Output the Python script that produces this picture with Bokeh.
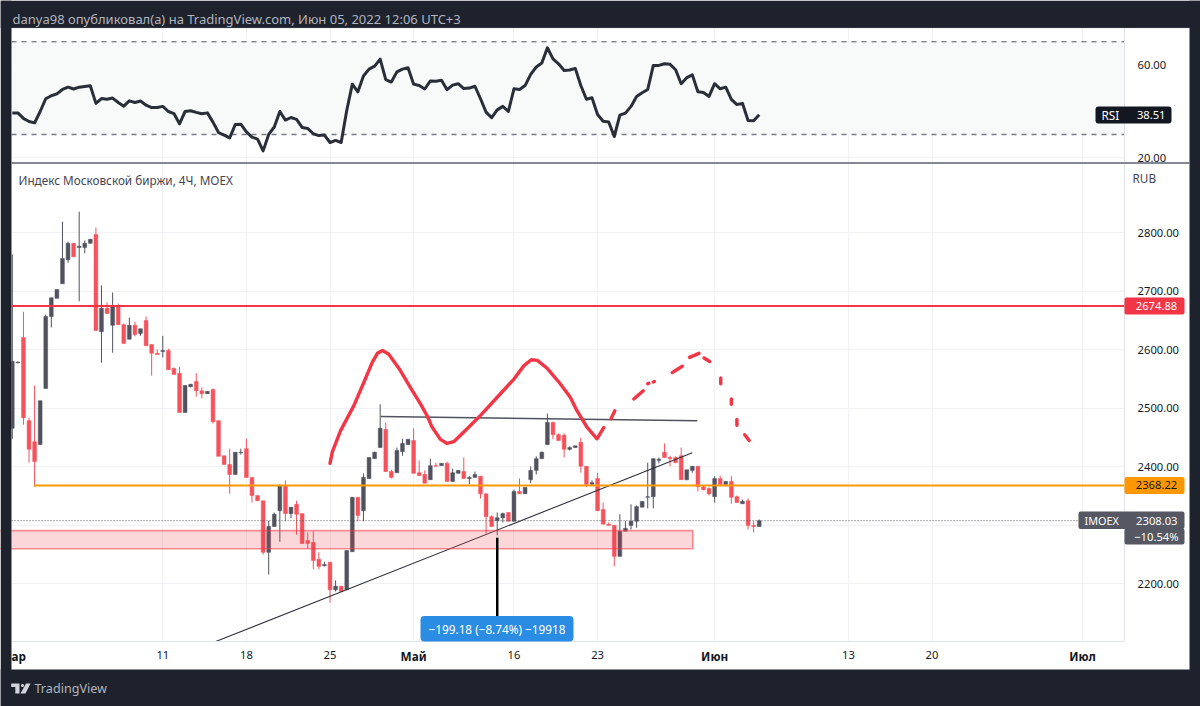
from bokeh.embed import file_html
from bokeh.models import (BoxAnnotation, ColumnDataSource, FixedTicker, Grid, Label, LinearAxis,
                          NumeralTickFormatter, PolyAnnotation, Range1d)
from bokeh.plotting import figure
from bokeh.resources import INLINE

opens = [2466,2578,2621,2479,2443,2438,2534,2657,2688,2713,2754,2782,2775,2775,2782,2797,2631,2671,2642,2674,
 2643,2618,2642,2628,2650,2609,2594,2597,2599,2568,2560,2493,2537,2546,2530,2525,2532,2479,2419,2404,
 2387,2424,2431,2382,2351,2342,2254,2298,2325,2368,2320,2336,2320,2274,2271,2242,2231,2237,2190,2196,
 2190,2255,2348,2325,2380,2414,2433,2464,2392,2390,2426,2438,2445,2390,2387,2378,2402,2402,2406,2375,
 2389,2392,2380,2382,2384,2354,2315,2308,2313,2322,2307,2358,2354,2378,2394,2414,2438,2476,2455,2454,
 2430,2433,2442,2401,2370,2380,2327,2302,2300,2247,2290,2300,2307,2331,2348,2349,2411,2425,2416,2416,
 2419,2378,2394,2401,2366,2363,2349,2380,2370,2375,2349,2337,2342,2300,2298]
highs = [2763,2580,2665,2484,2539,2513,2660,2689,2703,2819,2785,2782,2836,2787,2789,2809,2710,2681,2698,2679,
 2645,2655,2648,2636,2657,2609,2601,2624,2602,2570,2571,2539,2542,2560,2536,2529,2534,2479,2419,2431,
 2425,2431,2448,2382,2351,2342,2308,2322,2370,2377,2331,2342,2320,2288,2290,2254,2238,2237,2206,2196,
 2257,2348,2348,2389,2416,2426,2507,2476,2395,2433,2448,2448,2466,2411,2394,2414,2407,2406,2409,2397,
 2394,2416,2384,2392,2384,2354,2317,2322,2322,2322,2361,2380,2365,2401,2418,2426,2491,2477,2457,2457,
 2435,2436,2450,2401,2377,2390,2339,2305,2300,2319,2307,2336,2334,2341,2407,2414,2416,2440,2419,2418,
 2433,2395,2401,2401,2368,2365,2384,2385,2375,2384,2351,2344,2346,2307,2310]
lows = [2448,2577,2472,2407,2366,2438,2534,2638,2688,2713,2749,2759,2683,2765,2782,2633,2578,2662,2595,2643,
 2611,2618,2623,2624,2607,2556,2592,2587,2566,2558,2493,2493,2536,2520,2517,2525,2474,2418,2404,2354,
 2387,2421,2382,2339,2342,2250,2216,2298,2272,2307,2312,2284,2269,2260,2225,2225,2230,2168,2187,2187,
 2190,2255,2307,2307,2380,2414,2433,2392,2380,2390,2419,2438,2389,2385,2372,2378,2401,2402,2375,2375,
 2389,2380,2370,2382,2346,2286,2298,2283,2305,2307,2307,2354,2354,2372,2387,2414,2438,2447,2445,2416,
 2428,2433,2390,2366,2370,2325,2302,2300,2230,2247,2290,2293,2296,2331,2329,2329,2406,2416,2401,2407,
 2378,2377,2390,2358,2360,2351,2339,2370,2370,2337,2339,2337,2293,2288,2298]
closes = [2580,2579,2484,2430,2409,2513,2657,2689,2703,2756,2782,2759,2777,2782,2789,2633,2671,2662,2674,2643,
 2611,2642,2626,2636,2607,2594,2592,2599,2566,2558,2493,2539,2541,2530,2525,2529,2477,2418,2404,2387,
 2425,2425,2382,2351,2342,2254,2298,2319,2368,2320,2331,2319,2269,2269,2240,2230,2233,2190,2196,2187,
 2257,2348,2317,2382,2416,2425,2466,2392,2382,2428,2440,2447,2389,2385,2372,2402,2401,2406,2375,2390,
 2394,2380,2382,2387,2354,2315,2298,2313,2320,2307,2358,2354,2365,2394,2414,2425,2476,2455,2445,2430,
 2433,2436,2401,2370,2373,2325,2302,2300,2247,2290,2295,2307,2332,2341,2349,2414,2413,2416,2414,2407,
 2378,2395,2401,2366,2361,2354,2380,2370,2375,2348,2339,2341,2300,2298,2308]
rsi_values = [39.3,39.3,36.9,35.6,35.0,39.9,45.4,46.7,47.5,49.4,50.4,49.6,50.4,50.7,51.0,43.4,45.5,45.2,45.7,43.8,
 42.2,44.5,43.8,44.4,42.6,41.6,41.6,42.1,39.9,39.0,34.6,39.9,40.2,39.5,38.9,39.3,35.3,30.8,29.7,28.5,
 34.3,34.4,31.1,28.8,28.0,22.9,30.0,33.2,39.9,36.2,37.3,36.5,33.0,32.6,30.3,29.5,29.7,26.5,27.4,26.5,
 40.3,51.7,48.4,55.2,58.2,59.5,62.5,53.7,52.6,57.0,58.2,58.8,51.7,51.1,49.6,53.1,53.0,53.4,49.3,51.3,
 51.9,49.8,50.0,50.8,45.4,39.6,37.2,40.6,42.1,39.9,49.7,49.4,51.1,55.9,59.1,60.8,67.4,62.6,60.5,57.6,
 57.8,58.5,51.1,45.2,45.8,38.6,35.7,35.4,29.1,38.3,39.2,42.1,46.4,48.0,49.4,59.8,59.8,60.5,60.3,57.9,
 51.9,54.5,55.7,48.4,48.1,46.4,51.9,49.7,50.4,45.1,42.9,43.4,36.0,35.9,38.51]

price_ticks = [2200, 2300, 2400, 2500, 2600, 2700, 2800]
rsi_ticks = [20, 40, 60]
rsi_bands = [30, 70]
time_ticks = {27: "11", 42: "18", 57: "25", 72: "", 90: "16", 105: "23", 126: "", 150: "13", 165: "20", 192: ""}
month_labels = {72: "Май", 126: "Июн", 192: "Июл"}

resistance_level = 2674.88
support_level = 2368.22
last_price = 2308.03
last_change = "−10.54%"
rsi_last = 38.51
measure_text = "−199.18 (−8.74%) −19918"
header_text = "danya98 опубликовал(а) на TradingView.com, Июн 05, 2022 12:06 UTC+3"
symbol_text = "Индекс Московской биржи, 4Ч, MOEX"

sketch_x = [57.0,57.4,58.9,61.3,63.1,64.6,65.5,66.4,67.5,69.6,71.4,73.2,74.5,75.3,76.8,78.0,79.2,81.6,84.0,87.0,
            90.0,91.8,93.1,94.2,96.0,98.3,100.1,101.3,103.1,104.9,106.1]
sketch_y = [2406,2425,2462,2505,2545,2579,2594,2599,2593,2565,2536,2508,2486,2468,2447,2440,2443,2465,2488,2519,
            2550,2573,2583,2582,2568,2542,2519,2496,2468,2448,2467]
dash_x = [[107.4,108.1],[111.5,113.2],[114.0,114.2],[115.0,115.2],[118.4,120.2],[121.5,123.2],[124.1,125.1],
          [127.1,127.1],[129.0,129.0],[130.0,130.0],[131.4,132.2]]
dash_y = [[2482,2496],[2516,2530],[2542,2543],[2545,2546],[2561,2572],[2587,2594],[2586,2580],
          [2552,2542],[2516,2507],[2481,2471],[2455,2445]]
neck_x, neck_y = [66.1, 122.9], [2486, 2479]
trend_x, trend_y = [36.5, 122.0], [2101.5, 2424]
zone_x, zone_y = [-5, 122.1], [2260, 2291]
measure_x, measure_y = [87, 87], [2279, 2110]
support_start = 3.9

DARK, WHITE = "#1e222d", "#ffffff"
UP, DOWN = "#50535e", "#f5525c"
LINE_RED = "#f23645"
TEXT = "#131722"
GRID = "#f1f2f5"
FONT = "Noto Sans"
SIZE = "11.75px"
NUM_SIZE = "11.2px"
X_START, X_END = -0.14, 199.55
PRICE_LOW, PRICE_HIGH = 2101.5, 2918.4
RSI_LOW, RSI_HIGH = 17.92, 76.17

p = figure(width=1200, height=706, output_backend="svg", toolbar_location=None,
           x_range=Range1d(-2.117, 213.17), y_range=Range1d(1990.45, 3197),
           x_axis_location=None, y_axis_location=None,
           min_border=0, background_fill_color=WHITE, border_fill_color=DARK, outline_line_color=None)
p.extra_y_ranges = {"rsi": Range1d(-217.0, 87.82)}
p.grid.visible = False


def style_axis(ax):
    ax.major_tick_line_color = None
    ax.minor_tick_line_color = None
    ax.axis_line_color = "#e0e3eb"
    ax.major_label_text_font = FONT
    ax.major_label_text_font_size = NUM_SIZE
    ax.major_label_text_color = TEXT
    return ax


def canvas_box(left, right, top, bottom, color, **kw):
    p.add_layout(BoxAnnotation(left=left, right=right, top=top, bottom=bottom, left_units="canvas",
                               right_units="canvas", top_units="canvas", bottom_units="canvas",
                               fill_color=color, fill_alpha=1, line_color=None, **kw))


def text(s, x, y, color=TEXT, style="normal", align="left", x_units="canvas", y_units="canvas", size=SIZE):
    p.add_layout(Label(x=x, y=y, x_units=x_units, y_units=y_units, text=s, text_font=FONT, text_font_size=size,
                       text_color=color, text_font_style=style, text_align=align, text_baseline="middle"))


# grids
p.add_layout(Grid(dimension=0, ticker=FixedTicker(ticks=list(time_ticks)), grid_line_color=GRID,
                  cross_bounds=(PRICE_LOW, PRICE_HIGH)))
p.add_layout(Grid(dimension=0, ticker=FixedTicker(ticks=list(time_ticks)), grid_line_color=GRID,
                  y_range_name="rsi", cross_bounds=(RSI_LOW, RSI_HIGH)))
p.add_layout(Grid(dimension=1, ticker=FixedTicker(ticks=price_ticks), grid_line_color=GRID,
                  cross_bounds=(X_START, X_END)))
p.add_layout(Grid(dimension=1, ticker=FixedTicker(ticks=rsi_ticks), grid_line_color=GRID, y_range_name="rsi",
                  cross_bounds=(X_START, X_END)))

# ---------------- RSI pane ----------------
p.add_layout(BoxAnnotation(left=X_START, right=X_END, bottom=rsi_bands[0], top=rsi_bands[1], y_range_name="rsi",
                           fill_color="#f7faf9", fill_alpha=1, line_color=None, level="underlay"))
p.segment(X_START, rsi_bands[1], X_END, rsi_bands[1], y_range_name="rsi", line_color="#50535e",
          line_dash="5 5", line_width=1)
p.segment(X_START, rsi_bands[0], X_END, rsi_bands[0], y_range_name="rsi", line_color="#787b86",
          line_dash="5 5", line_width=1.5)
p.line(list(range(len(rsi_values))), rsi_values, y_range_name="rsi", line_color="#2a2e39", line_width=3,
       line_join="round")

# ---------------- Price pane ----------------
idx = list(range(len(opens)))
src = ColumnDataSource(dict(x=idx, o=opens, h=highs, l=lows, c=closes,
                            color=[UP if c >= o else DOWN for o, c in zip(opens, closes)]))
p.segment("x", "h", "x", "l", source=src, line_color="color", line_width=1)
p.vbar("x", 0.68, "o", "c", source=src, fill_color="color", line_color="color", line_width=0.5)
p.line(trend_x, trend_y, line_color="#2f323c", line_width=1.1)
p.line(neck_x, neck_y, line_color="#50535e", line_width=1.5)
p.quad(left=zone_x[0], right=zone_x[1], bottom=zone_y[0], top=zone_y[1], fill_color=LINE_RED, fill_alpha=0.2,
       line_color=LINE_RED, line_alpha=0.55, line_width=1.6)
p.segment(X_START, last_price, X_END, last_price, line_color=UP, line_dash="1 2", line_width=1)
p.segment(X_START, resistance_level, X_END, resistance_level, line_color=LINE_RED, line_width=2)
p.segment(support_start, support_level, X_END, support_level, line_color="#ff9800", line_width=2)
p.line(sketch_x, sketch_y, line_color=LINE_RED, line_width=3.4, line_join="round", line_cap="round")
p.multi_line(dash_x, dash_y, line_color=LINE_RED, line_width=3.4, line_cap="round")
p.line(measure_x, measure_y, line_color="#000000", line_width=2.5)

# axes placed at the pane edges
price_axis = style_axis(LinearAxis(fixed_location=X_END, bounds=(PRICE_LOW, PRICE_HIGH),
                                   ticker=FixedTicker(ticks=price_ticks),
                                   formatter=NumeralTickFormatter(format="0.00"),
                                   major_label_overrides={2300: ""}, major_label_standoff=7))
rsi_axis = style_axis(LinearAxis(fixed_location=X_END, bounds=(RSI_LOW, RSI_HIGH), y_range_name="rsi",
                                 ticker=FixedTicker(ticks=rsi_ticks),
                                 formatter=NumeralTickFormatter(format="0.00"),
                                 major_label_overrides={40: ""}, major_label_standoff=7))
time_axis = style_axis(LinearAxis(fixed_location=PRICE_LOW, bounds=(X_START, X_END),
                                  ticker=FixedTicker(ticks=list(time_ticks)),
                                  major_label_overrides=time_ticks, major_label_standoff=3))
p.add_layout(price_axis, "right")
p.add_layout(rsi_axis, "right")
p.add_layout(time_axis, "below")

# dark surround
canvas_box(0, 1200, 0, 27.5, DARK)
canvas_box(0, 1200, 669, 706, DARK)
canvas_box(0, 11, 0, 706, DARK)
canvas_box(1189, 1200, 0, 706, DARK)
p.add_layout(BoxAnnotation(left=11, right=1189, top=27.5, bottom=669, left_units="canvas", right_units="canvas",
                           top_units="canvas", bottom_units="canvas", fill_alpha=0, line_color="#9598a1",
                           line_width=1))
canvas_box(11, 1189, 161.8, 163.2, "#5d606b")

# measure bubble
canvas_box(420, 573, 615.5, 641, "#2a8de3", border_radius=4)
text(measure_text, 496.5, 628, color="#ffffff", align="center")

# price tags
for value, color, tc in [(resistance_level, LINE_RED, "#ffffff"), (support_level, "#ff9800", TEXT)]:
    p.add_layout(BoxAnnotation(left=1124, right=1184, left_units="canvas", right_units="canvas",
                               bottom=value - 14.5, top=value + 14.5, fill_color=color, fill_alpha=1,
                               line_color=None, border_radius=2))
    text(f"{value:.2f}", 1156, value, color=tc, align="center", y_units="data", size=NUM_SIZE)
canvas_box(1078, 1184, 511, 528.5, "#555763", border_radius=2)
canvas_box(1124, 1184, 528, 544, "#555763", border_radius=2)
text("IMOEX", 1084, last_price, color="#ffffff", y_units="data", size="10.8px")
text(f"{last_price:.2f}", 1177, last_price, color="#ffffff", align="right", y_units="data", size=NUM_SIZE)
text(last_change, 1178, 536, color="#ffffff", align="right", size=NUM_SIZE)

canvas_box(1095, 1171, 106, 123, "#131722", border_radius=3)
text("RSI", 1101, 114.5, color="#ffffff")
text(f"{rsi_last:.2f}", 1165, 114.5, color="#ffffff", align="right", size=NUM_SIZE)

# pane texts
text(header_text, 12, 18, color="#b2b5be", size="13px")
text(symbol_text, 18, 179, color="#434651")
text("RUB", 1132, 177, color="#434651")
text("ар", 11, 655, style="bold")
for k, s in month_labels.items():
    text(s, k, 655, style="bold", align="center", x_units="data")

# footer logo
logo_polys = [
    ([10.7, 19, 19, 14.8, 14.8, 10.7], [683, 683, 693, 693, 686.5, 686.5]),
    ([20.4, 21.2, 22.8, 23.6, 22.8, 21.2], [685, 683.4, 683.4, 685, 686.6, 686.6]),
    ([25.5, 30, 25, 20], [683, 683, 693, 693]),
]
for xs, ys in logo_polys:
    p.add_layout(PolyAnnotation(xs=xs, ys=ys, xs_units="canvas", ys_units="canvas", fill_color="#d1d4dc",
                                fill_alpha=1, line_color=None))
text("TradingView", 34, 688, size="12.6px", color="#b2b5be")

open("out.html", "w").write(file_html(p, INLINE))
